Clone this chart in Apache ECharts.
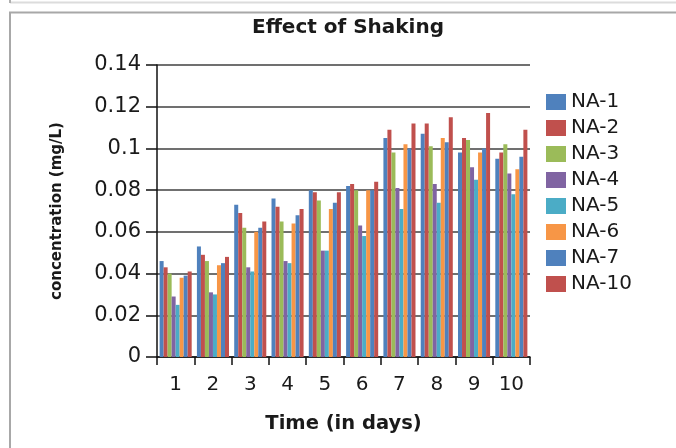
<!DOCTYPE html>
<html>
<head>
<meta charset="utf-8">
<script src="https://cdn.jsdelivr.net/npm/echarts@6/dist/echarts.min.js"></script>
<style>
  html, body { margin: 0; padding: 0; background: #fff; }
  #chart { width: 676px; height: 448px; }
</style>
</head>
<body>
<div id="chart"></div>
<script>
// days on the x axis
var days = ['1', '2', '3', '4', '5', '6', '7', '8', '9', '10'];

// concentration (mg/L)
var na1  = [0.046, 0.053, 0.073, 0.076, 0.080, 0.082, 0.105, 0.107, 0.098, 0.095];
var na2  = [0.043, 0.049, 0.069, 0.072, 0.079, 0.083, 0.109, 0.112, 0.105, 0.098];
var na3  = [0.040, 0.046, 0.062, 0.065, 0.075, 0.080, 0.098, 0.101, 0.104, 0.102];
var na4  = [0.029, 0.031, 0.043, 0.046, 0.051, 0.063, 0.081, 0.083, 0.091, 0.088];
var na5  = [0.025, 0.030, 0.041, 0.045, 0.051, 0.058, 0.071, 0.074, 0.085, 0.078];
var na6  = [0.038, 0.044, 0.060, 0.064, 0.071, 0.080, 0.102, 0.105, 0.098, 0.090];
var na7  = [0.039, 0.045, 0.062, 0.068, 0.074, 0.080, 0.100, 0.103, 0.100, 0.096];
var na10 = [0.041, 0.048, 0.065, 0.071, 0.079, 0.084, 0.112, 0.115, 0.117, 0.109];

var seriesNames = ['NA-1', 'NA-2', 'NA-3', 'NA-4', 'NA-5', 'NA-6', 'NA-7', 'NA-10'];
var seriesData = [na1, na2, na3, na4, na5, na6, na7, na10];
var colors = ['#4f81bd', '#c0504d', '#9bbb59', '#8064a2', '#4bacc6', '#f79646', '#4f81bd', '#c0504d'];

var font = 'DejaVu Sans';

var series = seriesNames.map(function (name, i) {
    return {
        name: name,
        type: 'bar',
        data: seriesData[i],
        barGap: '0%',
        barCategoryGap: '14%',
        itemStyle: { color: colors[i] }
    };
});

var option = {
    animation: false,
    backgroundColor: '#fff',
    color: colors,
    title: {
        text: 'Effect of Shaking',
        left: 348,
        textAlign: 'center',
        top: 18,
        padding: 0,
        textStyle: { fontFamily: font, fontSize: 20, fontWeight: 'bold', color: '#1a1a1a' }
    },
    legend: {
        orient: 'vertical',
        left: 546,
        top: 92,
        padding: 0,
        itemWidth: 20,
        itemHeight: 16,
        itemGap: 6,
        icon: 'rect',
        data: seriesNames,
        textStyle: { fontFamily: font, fontSize: 20, color: '#1a1a1a', lineHeight: 20 }
    },
    grid: {
        left: 157,
        right: 146,
        top: 65,
        bottom: 91
    },
    xAxis: {
        type: 'category',
        data: days,
        name: 'Time (in days)',
        nameLocation: 'middle',
        nameGap: 57,
        nameTextStyle: { fontFamily: font, fontSize: 19.5, fontWeight: 'bold', color: '#1a1a1a' },
        axisLine: { lineStyle: { color: '#111', width: 1.5 } },
        axisTick: { show: true, length: 8, lineStyle: { color: '#111', width: 1.5 } },
        axisLabel: { fontFamily: font, fontSize: 20, color: '#1a1a1a', margin: 18 }
    },
    yAxis: {
        type: 'value',
        min: 0,
        max: 0.14,
        interval: 0.02,
        name: 'concentration (mg/L)',
        nameLocation: 'middle',
        nameGap: 92,
        nameTextStyle: { fontFamily: font, fontSize: 15, fontWeight: 'bold', color: '#1a1a1a' },
        axisLine: { show: true, lineStyle: { color: '#111', width: 1.5 } },
        axisTick: { show: true, length: 11, lineStyle: { color: '#111', width: 1.5 } },
        axisLabel: {
            fontFamily: font, fontSize: 21, color: '#1a1a1a', margin: 16,
            formatter: function (v) { return String(+v.toFixed(2)); }
        },
        splitLine: { lineStyle: { color: '#404040', width: 1.5 } }
    },
    graphic: [
        { type: 'line', shape: { x1: 10, y1: 2.5, x2: 676, y2: 2.5 }, style: { stroke: '#dcdcdc', lineWidth: 2 } },
        { type: 'line', shape: { x1: 10, y1: 0, x2: 10, y2: 3 }, style: { stroke: '#b0b0b0', lineWidth: 2 } },
        { type: 'line', shape: { x1: 9, y1: 12.5, x2: 676, y2: 12.5 }, style: { stroke: '#a8a8a8', lineWidth: 2 } },
        { type: 'line', shape: { x1: 10, y1: 12, x2: 10, y2: 448 }, style: { stroke: '#a8a8a8', lineWidth: 2 } }
    ],
    series: series
};

var chart = echarts.init(document.getElementById('chart'));
chart.setOption(option);
</script>
</body>
</html>
